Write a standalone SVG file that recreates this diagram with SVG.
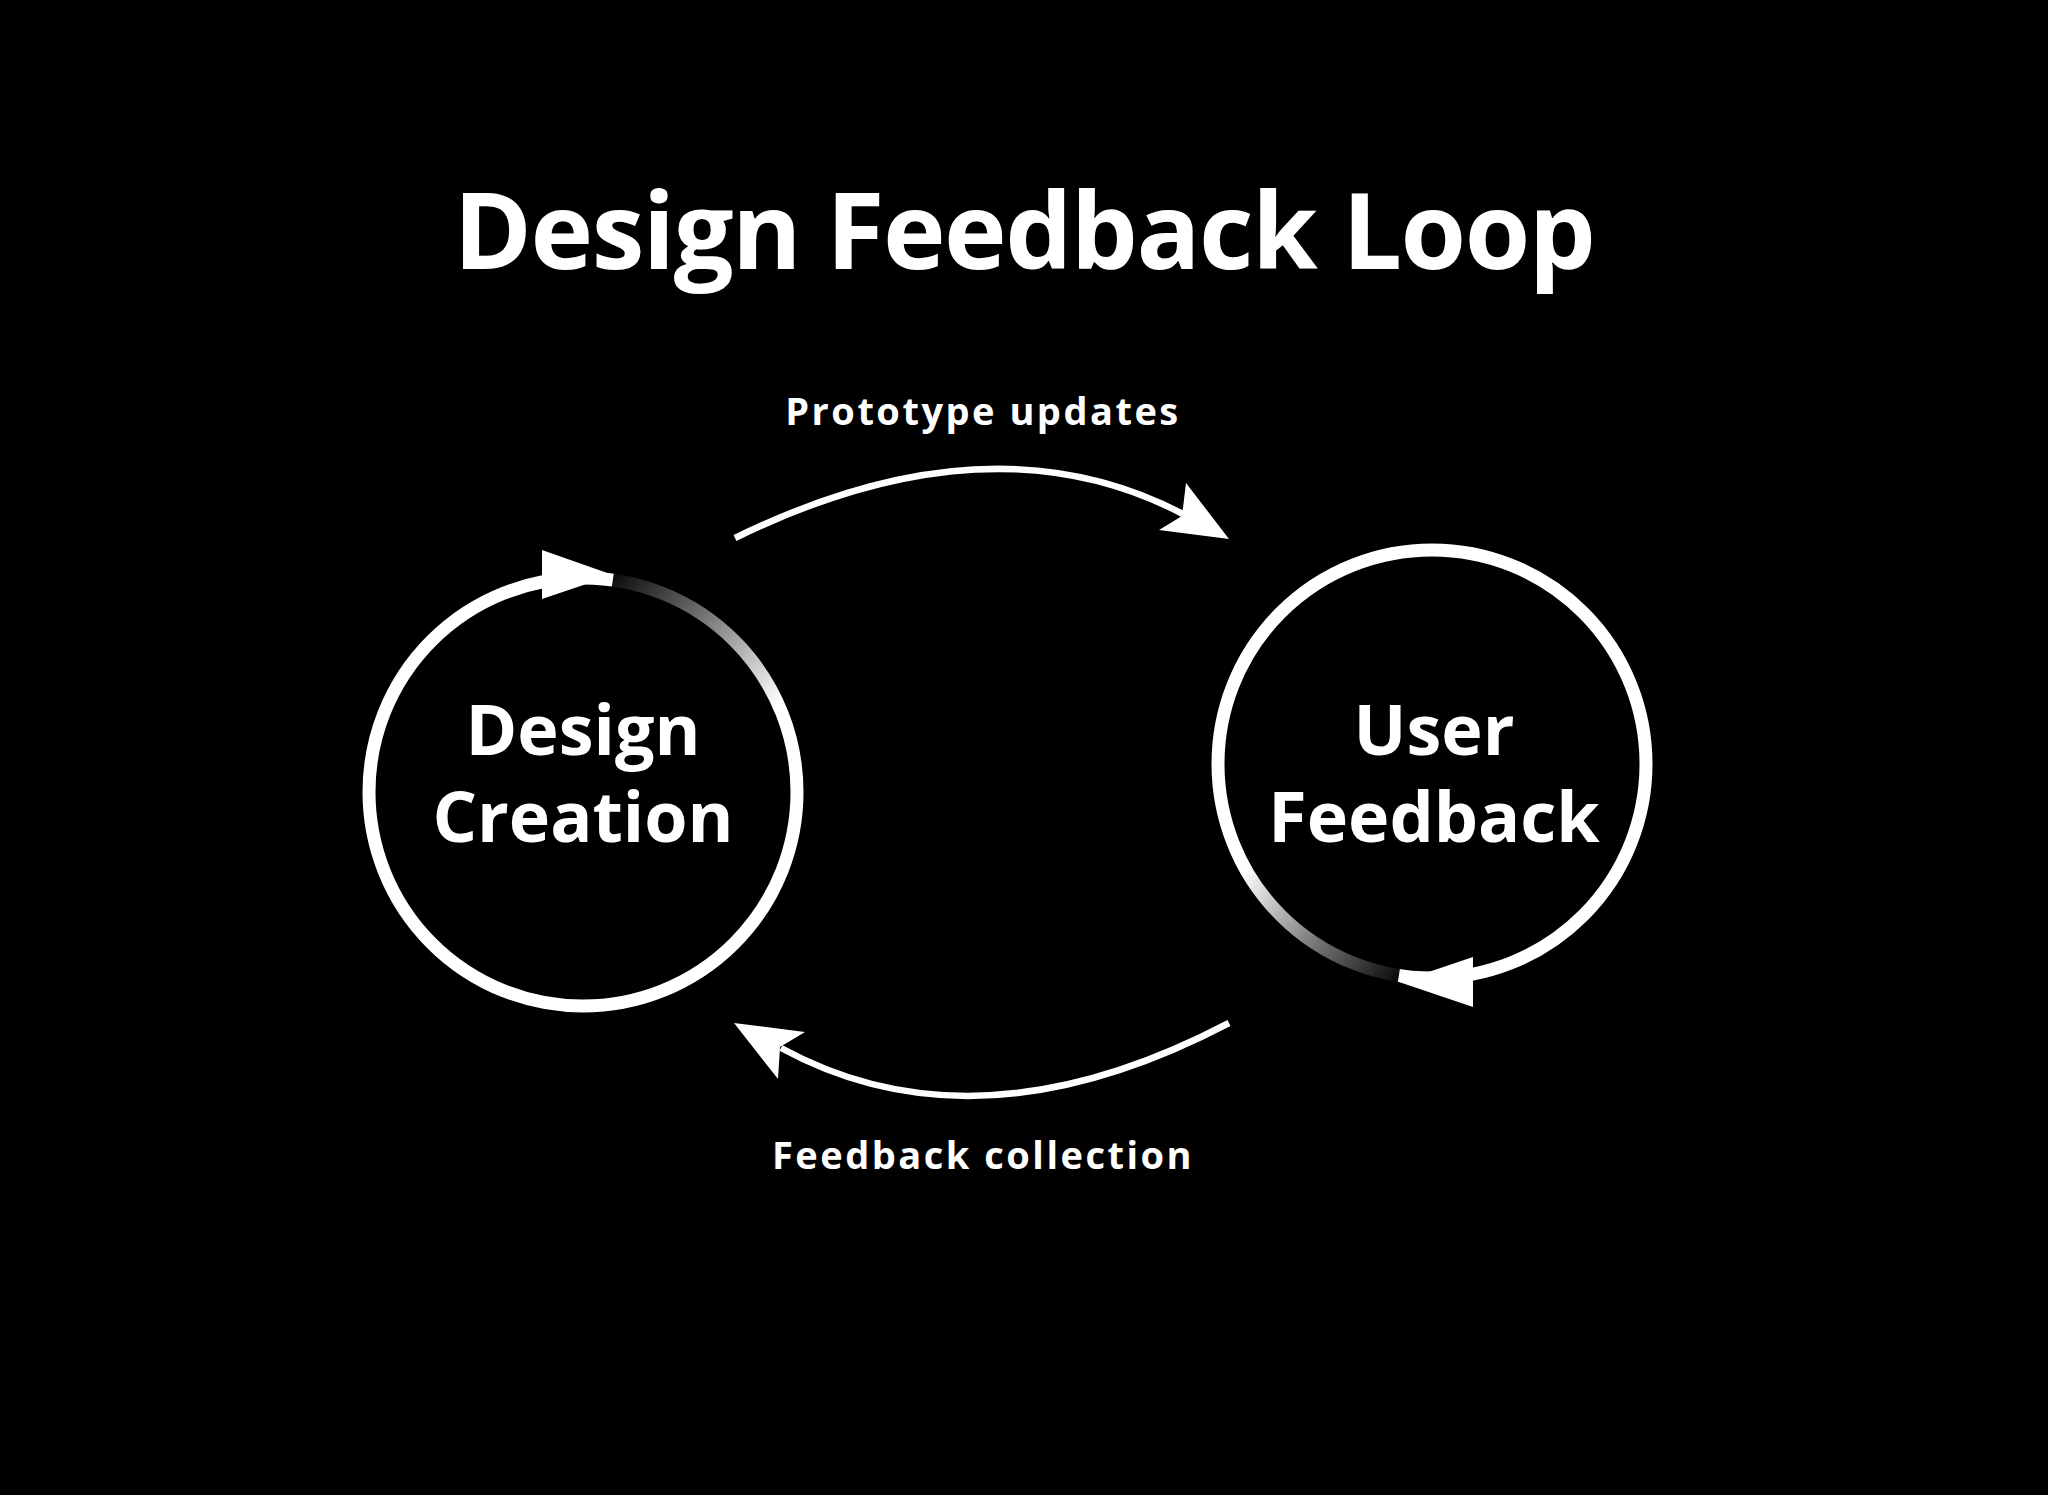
<svg xmlns="http://www.w3.org/2000/svg" width="2048" height="1495" viewBox="0 0 2048 1495">
<style>
text{font-family:"Open Sans","Noto Sans","Liberation Sans",sans-serif;font-weight:700;fill:#fff;text-anchor:middle}
.title{font-size:106px;letter-spacing:-1.5px}
.node{font-size:70px}
.edge{font-size:38px;letter-spacing:2.5px}
.ring{fill:none;stroke:#fff;stroke-width:13}
.conn{fill:none;stroke:#fff;stroke-width:6.5}
.head{fill:#fff}
</style>
<defs>
<linearGradient id="fadeL" gradientUnits="userSpaceOnUse" x1="613" y1="580" x2="779" y2="705">
<stop offset="0" stop-color="#000" stop-opacity="0.95"/>
<stop offset="0.45" stop-color="#000" stop-opacity="0.55"/>
<stop offset="1" stop-color="#000" stop-opacity="0"/>
</linearGradient>
<linearGradient id="fadeR" gradientUnits="userSpaceOnUse" x1="1399" y1="975" x2="1245" y2="868">
<stop offset="0" stop-color="#000" stop-opacity="0.95"/>
<stop offset="0.45" stop-color="#000" stop-opacity="0.55"/>
<stop offset="1" stop-color="#000" stop-opacity="0"/>
</linearGradient>
</defs>
<rect width="2048" height="1495" fill="#000"/>
<text class="title" x="1024" y="269">Design Feedback Loop</text>
<g id="node-design-creation">
<circle class="ring" cx="583" cy="792" r="214"/>
<path d="M 612.8 580.1 A 214 214 0 0 1 778.5 705" fill="none" stroke="url(#fadeL)" stroke-width="15"/>
<polygon class="head" points="542,550 613,575 542,599"/>
<text class="node" x="583" y="755">Design</text>
<text class="node" x="583" y="842">Creation</text>
</g>
<g id="node-user-feedback">
<circle class="ring" cx="1432" cy="764" r="214"/>
<path d="M 1398.9 975.4 A 214 214 0 0 1 1244.8 867.7" fill="none" stroke="url(#fadeR)" stroke-width="15"/>
<polygon class="head" points="1473,957 1399,982 1473,1007"/>
<text class="node" x="1434" y="755">User</text>
<text class="node" x="1434" y="842">Feedback</text>
</g>
<g id="connectors">
<path class="conn" d="M 735 538 Q 990 413 1183 514"/>
<polygon class="head" points="1229,539 1186,483 1182,516 1159,530"/>
<text class="edge" x="983" y="425">Prototype updates</text>
<path class="conn" d="M 1229 1023 Q 977 1155 781 1048"/>
<polygon class="head" points="734,1023 805,1032 780,1047 778,1079"/>
<text class="edge" x="983" y="1169">Feedback collection</text>
</g>
</svg>
